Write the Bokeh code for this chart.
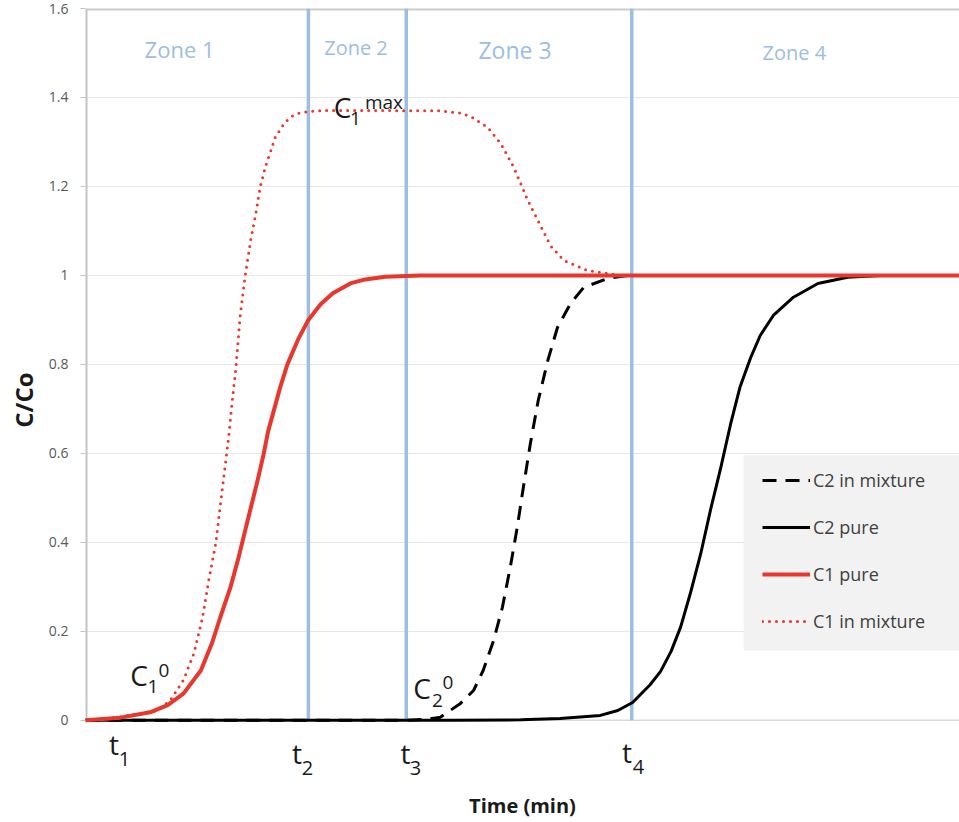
from bokeh.plotting import figure
from bokeh.models import Range1d, FixedTicker, Label, Legend, LegendItem, BoxAnnotation
from bokeh.embed import file_html
from bokeh.resources import INLINE

# Breakthrough curves: time (min) against relative concentration C/Co
c1_pure_t = [0, 4.0, 7.4, 9.4, 11.2, 13.2, 14.5, 15.4, 16.6, 17.5, 18.5, 19.7, 20.4, 20.9,
             21.6, 22.3, 23.1, 24.3, 25.5, 26.9, 28.3, 30.3, 32.0, 34.3, 38.3, 100]
c1_pure_v = [0, 0.006, 0.018, 0.034, 0.06, 0.112, 0.175, 0.23, 0.30, 0.365, 0.445, 0.54, 0.60,
             0.65, 0.70, 0.75, 0.80, 0.855, 0.90, 0.935, 0.96, 0.982, 0.991, 0.997, 1.0, 1.0]

c1_mix_t = [0, 4.0, 8.2, 9.7, 11.2, 12.4, 13.4, 14.1, 14.9, 15.4, 16.0, 16.4, 16.8, 17.2,
            17.7, 18.3, 18.9, 19.5, 20.0, 20.6, 21.2, 21.7, 22.7, 23.5, 24.3, 25.7, 28.0,
            40.6, 42.9, 44.1, 46.0, 47.5, 49.0, 50.6, 52.1, 53.2, 54.7, 57.4, 61.2, 100]
c1_mix_v = [0, 0.008, 0.022, 0.045, 0.09, 0.15, 0.232, 0.315, 0.397, 0.479, 0.575, 0.64,
            0.72, 0.79, 0.91, 1.004, 1.079, 1.14, 1.20, 1.245, 1.28, 1.31, 1.341, 1.357,
            1.364, 1.369, 1.371, 1.370, 1.365, 1.357, 1.333, 1.297, 1.243, 1.169, 1.11,
            1.067, 1.034, 1.011, 1.0, 1.0]

c2_mix_t = [0, 36.6, 38.9, 40.6, 42.9, 44.4, 45.5, 46.7, 47.7, 48.6, 49.4, 50.1, 50.9,
            51.8, 52.9, 54.0, 55.5, 57.0, 59.7, 62.0, 100]
c2_mix_v = [0, 0.0, 0.002, 0.007, 0.038, 0.067, 0.112, 0.18, 0.254, 0.344, 0.434, 0.524,
            0.622, 0.719, 0.809, 0.883, 0.937, 0.973, 0.993, 1.0, 1.0]

c2_pure_t = [0, 41.8, 49.8, 54.3, 58.9, 60.9, 62.6, 63.5, 64.6, 65.8, 67.0, 68.1, 69.2, 70.4,
             71.5, 72.7, 73.8, 74.9, 76.1, 77.2, 78.7, 81.0, 83.8, 87.2, 91.0, 100]
c2_pure_v = [0, 0.0, 0.001, 0.004, 0.011, 0.022, 0.04, 0.058, 0.08, 0.11, 0.155, 0.21, 0.285,
             0.375, 0.472, 0.569, 0.665, 0.75, 0.815, 0.865, 0.91, 0.951, 0.982, 0.996, 1.0, 1.0]

zone_bounds = [25.5, 36.7, 62.5]
zone_names = ["Zone 1", "Zone 2", "Zone 3", "Zone 4"]
y_ticks = [0, 0.2, 0.4, 0.6, 0.8, 1, 1.2, 1.4, 1.6]
y_tick_labels = ["0", "0.2", "0.4", "0.6", "0.8", "1", "1.2", "1.4", "1.6"]
series_labels = ["C2 in mixture", "C2 pure", "C1 pure", "C1 in mixture"]

FONT = "Open Sans"
ZONE_BLUE = "#9dbde2"
RED = "#e8372c"
AXIS_GREY = "#c4c4c4"
Y_MAX = y_ticks[-1]

# the frame reaches below zero so the time markers can sit under the axis
p = figure(width=959, height=822, output_backend="svg", toolbar_location=None,
           x_range=Range1d(0, 100), y_range=Range1d(-0.16, Y_MAX),
           min_border_left=85, min_border_right=0, min_border_top=8, min_border_bottom=31)
p.background_fill_color = "white"
p.border_fill_color = "white"
p.outline_line_color = None

# x axis: title only
p.xaxis.ticker = FixedTicker(ticks=[])
p.xaxis.major_tick_out = 0
p.xaxis.major_tick_in = 0
p.xaxis.minor_tick_out = 0
p.xaxis.major_label_standoff = 0
p.xaxis.axis_line_color = None
p.xaxis.axis_label = "Time (min)"
p.xaxis.axis_label_text_font = FONT
p.xaxis.axis_label_text_font_style = "bold"
p.xaxis.axis_label_text_font_size = "20px"
p.xaxis.axis_label_text_color = "#1a1a1a"
p.xaxis.axis_label_standoff = 0

# y axis
p.yaxis.ticker = FixedTicker(ticks=y_ticks)
p.yaxis.major_label_overrides = dict(zip(y_ticks, y_tick_labels))
p.yaxis.major_tick_out = 5
p.yaxis.major_tick_in = 0
p.yaxis.minor_tick_out = 0
p.yaxis.major_tick_line_color = AXIS_GREY
p.yaxis.axis_line_color = None
p.yaxis.major_label_standoff = 12
p.yaxis.major_label_text_font = FONT
p.yaxis.major_label_text_font_size = "14px"
p.yaxis.major_label_text_color = "#595959"
p.yaxis.axis_label = "C/Co"
p.yaxis.axis_label_text_font = FONT
p.yaxis.axis_label_text_font_style = "bold"
p.yaxis.axis_label_text_font_size = "24px"
p.yaxis.axis_label_text_color = "#1a1a1a"
p.yaxis.axis_label_standoff = 6

p.ygrid.ticker = FixedTicker(ticks=y_ticks)
p.ygrid.grid_line_color = "#e6e6e6"
p.xgrid.visible = False

# plot-area border lines (left, top, bottom)
p.segment(x0=[0], y0=[0], x1=[0], y1=[Y_MAX], line_color=AXIS_GREY, line_width=4)
p.segment(x0=[0], y0=[Y_MAX], x1=[100], y1=[Y_MAX], line_color="#cccccc", line_width=4)
p.segment(x0=[0], y0=[0], x1=[100], y1=[0], line_color="#d9d9d9", line_width=1.5)

# zone boundaries
p.segment(x0=zone_bounds, y0=[0] * 3, x1=zone_bounds, y1=[Y_MAX] * 3,
          line_color=ZONE_BLUE, line_width=3.5)

# curves
r_c2_mix = p.line(c2_mix_t, c2_mix_v, line_color="black", line_width=3, line_dash="14 9")
r_c2_pure = p.line(c2_pure_t, c2_pure_v, line_color="black", line_width=3)
r_c1_pure = p.line(c1_pure_t, c1_pure_v, line_color=RED, line_width=4)
r_c1_mix = p.line(c1_mix_t, c1_mix_v, line_color=RED, line_width=3, line_dash="0 7",
                  line_cap="round")

# legend panel
p.add_layout(BoxAnnotation(left=75.3, right=100, bottom=0.157, top=0.596,
                           fill_color="#f2f2f2", fill_alpha=1, line_color=None))
legend = Legend(items=[LegendItem(label=series_labels[0], renderers=[r_c2_mix]),
                       LegendItem(label=series_labels[1], renderers=[r_c2_pure]),
                       LegendItem(label=series_labels[2], renderers=[r_c1_pure]),
                       LegendItem(label=series_labels[3], renderers=[r_c1_mix])],
                location=(677, 158), margin=0, padding=0, spacing=23,
                glyph_width=48, glyph_height=20, label_height=20, label_standoff=3,
                label_text_font=FONT, label_text_font_size="18px", label_text_color="#404040",
                background_fill_alpha=0, border_line_color=None)
p.add_layout(legend)


def add_text(x, y, text, size, color="#1a1a1a", align="center"):
    p.add_layout(Label(x=x, y=y, text=text, text_font=FONT, text_font_size=size,
                       text_color=color, text_align=align, text_baseline="middle"))


# zone titles
for name, zx, zy, zs in zip(zone_names, [10.76, 30.95, 49.14, 81.1],
                            [1.51, 1.512, 1.506, 1.501], ["22px", "20px", "23px", "20px"]):
    add_text(zx, zy, name, zs, ZONE_BLUE)

# concentration markers
add_text(6.12, 0.101, "C", "28px")
add_text(7.72, 0.075, "1", "19px")
add_text(8.98, 0.112, "0", "19px")
add_text(38.5, 0.072, "C", "28px")
add_text(40.27, 0.044, "2", "19px")
add_text(41.48, 0.084, "0", "19px")
add_text(29.4, 1.378, "C", "28px")
add_text(30.89, 1.353, "1", "19px")
add_text(34.15, 1.39, "max", "19px")

# time markers under the axis
for tx, ty, sx, sy, sub in [(3.26, -0.053, 4.46, -0.086, "1"),
                            (24.2, -0.074, 25.4, -0.107, "2"),
                            (36.6, -0.074, 37.76, -0.107, "3"),
                            (61.96, -0.071, 63.27, -0.105, "4")]:
    add_text(tx, ty, "t", "28px")
    add_text(sx, sy, sub, "20px")

open("out.html", "w").write(file_html(p, INLINE))
